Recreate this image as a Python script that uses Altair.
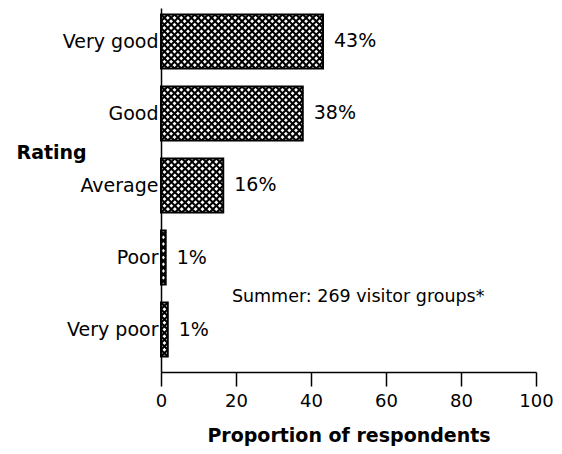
import json
import altair as alt
import pandas as pd

# ---- data ----
categories = ["Very good", "Good", "Average", "Poor", "Very poor"]
proportions = [43.2, 37.8, 16.6, 1.25, 1.8]
value_labels = ["43%", "38%", "16%", "1%", "1%"]
x_ticks = [0, 20, 40, 60, 80, 100]
note_text = "Summer: 269 visitor groups*"
x_title = "Proportion of respondents"
y_title = "Rating"

# ---- geometry (style) ----
PX_PER_X = 3.75          # px per percentage point (375 px / 100)
PX_PER_Y = 72.0          # px per category step
HALF = 0.375             # half bar thickness in category units
HATCH = 6.8              # crosshatch period in px
ROWS = 8

n = len(categories)
positions = [n - 1 - i for i in range(n)]  # Very good on top

bars = pd.DataFrame({
    "category": categories,
    "value": proportions,
    "label": value_labels,
    "pos": positions,
})
bars["y0"] = bars["pos"] - HALF
bars["y1"] = bars["pos"] + HALF

# crosshatch texture derived from the bar values
rows = []
for cat, val, p in zip(categories, proportions, positions):
    w_px = val * PX_PER_X
    ncols = max(1, round(w_px / HATCH))
    sx = w_px / ncols
    sy = (2 * HALF * PX_PER_Y) / ROWS
    sz = min(sx, sy, HATCH) ** 2
    for i in range(ncols):
        for j in range(ROWS):
            rows.append({
                "x": (i + 0.5) * val / ncols,
                "y": p - HALF + (j + 0.5) * (2 * HALF) / ROWS,
                "sz": sz,
            })
hatch = pd.DataFrame(rows)

label_lookup = json.dumps(list(reversed(categories)))

FONT = "DejaVu Sans"

x_scale = alt.Scale(domain=[0, 100], nice=False, zero=True)
y_scale = alt.Scale(domain=[-0.59, 4.465], nice=False, zero=False)

x_axis = alt.Axis(
    values=x_ticks, title=x_title, grid=False,
    tickSize=14, tickWidth=1.5, tickColor="black",
    domainColor="black", domainWidth=1.5,
    labelFont=FONT, labelFontSize=18, labelColor="black", labelPadding=6,
    labelFlush=False, labelOverlap=False,
    titleFont=FONT, titleFontSize=19, titleFontWeight="bold", titleColor="black",
    titlePadding=16,
)
y_axis = alt.Axis(
    values=positions, title=y_title, grid=False, ticks=False,
    domainColor="black", domainWidth=1.5,
    labelExpr=f"{label_lookup}[datum.value]",
    labelFont=FONT, labelFontSize=19, labelColor="black", labelPadding=3,
    labelBaseline="middle", labelFlush=False, labelOverlap=False,
    titleFont=FONT, titleFontSize=19, titleFontWeight="bold", titleColor="black",
    titleAngle=0, titleAlign="left", titleBaseline="middle",
    titleX=-145, titleY=144,
)

texture = alt.Chart(hatch).mark_point(
    shape="M-1,-1L1,1M-1,1L1,-1", filled=False, stroke="black",
    strokeWidth=2, opacity=1,
).encode(
    x=alt.X("x:Q", scale=x_scale, axis=x_axis),
    y=alt.Y("y:Q", scale=y_scale, axis=y_axis),
    size=alt.Size("sz:Q", scale=None, legend=None),
)

outline = alt.Chart(bars).mark_rect(
    fillOpacity=0, stroke="black", strokeWidth=2,
).encode(
    x=alt.X("value:Q", scale=x_scale),
    x2=alt.datum(0),
    y=alt.Y("y0:Q", scale=y_scale),
    y2="y1:Q",
)

labels = alt.Chart(bars).mark_text(
    align="left", baseline="middle", dx=11, font=FONT, fontSize=19, color="black",
).encode(
    x=alt.X("value:Q", scale=x_scale),
    y=alt.Y("pos:Q", scale=y_scale),
    text="label:N",
)

note = alt.Chart(pd.DataFrame({"t": [note_text]})).mark_text(
    align="left", baseline="middle", font=FONT, fontSize=17.5, color="black",
).encode(
    x=alt.datum(18.9, scale=x_scale),
    y=alt.datum(0.45, scale=y_scale),
    text="t:N",
)

chart = alt.layer(texture, outline, labels, note).properties(
    width=375, height=364,
    autosize=alt.AutoSizeParams(type="none"),
    padding={"left": 153, "top": 0, "right": 18, "bottom": 74},
    background="white",
).configure_view(stroke=None, strokeWidth=0)

chart.save("out.html", embed_options={"renderer": "svg", "actions": False})
